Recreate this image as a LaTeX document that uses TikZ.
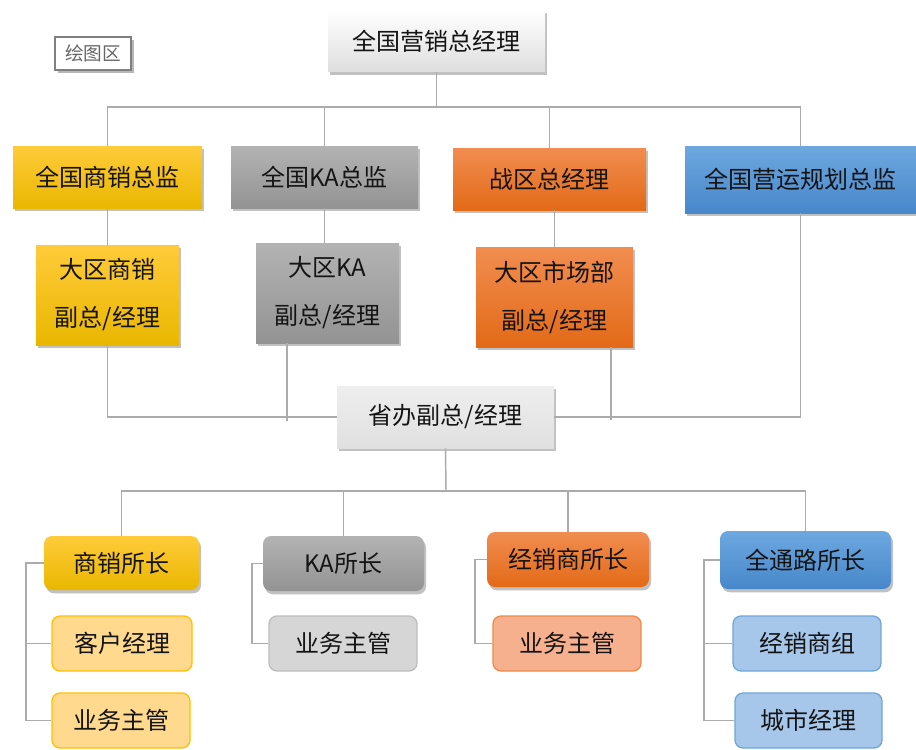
\documentclass[tikz,border=0pt]{standalone}
\usepackage{fontspec}
\setmainfont{Noto Sans CJK SC}
\usetikzlibrary{shadows}
\definecolor{conncol}{HTML}{ABABAB}
\definecolor{ylwT}{HTML}{FFCB3A}\definecolor{ylwB}{HTML}{E9B700}
\definecolor{gryT}{HTML}{B3B3B3}\definecolor{gryB}{HTML}{939393}
\definecolor{orgT}{HTML}{F18D50}\definecolor{orgB}{HTML}{E36A17}
\definecolor{bluT}{HTML}{6DA8DF}\definecolor{bluB}{HTML}{4787CA}
\definecolor{whtT}{HTML}{FFFFFF}\definecolor{whtB}{HTML}{DEDEDE}
\definecolor{pvT}{HTML}{EEEEEE}\definecolor{pvB}{HTML}{E0E0E0}
\definecolor{lyF}{HTML}{FFD98E}\definecolor{lyD}{HTML}{FFC000}
\definecolor{lgF}{HTML}{D6D6D6}\definecolor{lgD}{HTML}{BDBDBD}
\definecolor{loF}{HTML}{F6B08E}\definecolor{loD}{HTML}{F0894A}
\definecolor{lbF}{HTML}{A7C7EA}\definecolor{lbD}{HTML}{6FA6DA}
\begin{document}
\begin{tikzpicture}[x=0.75pt,y=-0.75pt,
  base/.style={rectangle,inner sep=0pt,align=center,text=black!92,
    font=\fontsize{18}{36}\selectfont},
  shad/.style={drop shadow={shadow xshift=1.5pt,shadow yshift=-2.5pt,opacity=0.35,fill=black!70}},
  grad/.style 2 args={base,shad,top color=#1,bottom color=#2},
  rbox/.style 2 args={base,shad,rounded corners=6pt,top color=#1,bottom color=#2},
  lbox/.style 2 args={base,rounded corners=6pt,fill=#1,draw=#2,line width=1pt},
  conn/.style={draw=conncol,line width=1.1pt}
]
\useasboundingbox (0,0) rectangle (916,749);

% level 1
\node[grad={whtT}{whtB},minimum width=162.75pt,minimum height=46.5pt] (top) at (436.5,41) {全国营销总经理};
\node[base,fill=white,draw=black!50,line width=0.8pt,
  drop shadow={shadow xshift=2.5pt,shadow yshift=-2.5pt,opacity=0.4,fill=black!70},
  text=black!60,font=\fontsize{14}{16}\selectfont,minimum width=57pt,minimum height=24.75pt] (area) at (93,53.5) {绘图区};

% level 2
\node[grad={ylwT}{ylwB},minimum width=141.75pt,minimum height=46.5pt] (d1) at (107.5,177) {全国商销总监};
\node[grad={gryT}{gryB},minimum width=140.25pt,minimum height=46.5pt] (d2) at (324.5,177) {全国KA总监};
\node[grad={orgT}{orgB},minimum width=144.75pt,minimum height=46.5pt] (d3) at (549.5,179) {战区总经理};
\node[grad={bluT}{bluB},minimum width=173.25pt,minimum height=50.25pt] (d4) at (800.5,179.5) {全国营运规划总监};

% level 3
\node[grad={ylwT}{ylwB},minimum width=107.25pt,minimum height=75pt] (r1) at (107.5,295) {大区商销\\副总/经理};
\node[grad={gryT}{gryB},minimum width=107.25pt,minimum height=75pt] (r2) at (327.5,293) {大区KA\\副总/经理};
\node[grad={orgT}{orgB},minimum width=117.75pt,minimum height=75pt] (r3) at (554.5,297) {大区市场部\\副总/经理};

% province
\node[grad={pvT}{pvB},minimum width=162.75pt,minimum height=46.5pt] (p) at (445.5,417) {省办副总/经理};

% level 4
\node[rbox={ylwT}{ylwB},minimum width=116.25pt,minimum height=40.5pt] (e1) at (121.5,563) {商销所长};
\node[rbox={gryT}{gryB},minimum width=120.75pt,minimum height=41.25pt] (e2) at (343.5,563.5) {KA所长};
\node[rbox={orgT}{orgB},minimum width=121.5pt,minimum height=41.25pt] (e3) at (568,559.5) {经销商所长};
\node[rbox={bluT}{bluB},minimum width=128.25pt,minimum height=43.5pt] (e4) at (805.5,560) {全通路所长};

% level 5
\node[lbox={lyF}{lyD},minimum width=105pt,minimum height=41.25pt] (f1) at (122,643.5) {客户经理};
\node[lbox={lyF}{lyD},minimum width=103.5pt,minimum height=41.25pt] (f2) at (121,720.5) {业务主管};
\node[lbox={lgF}{lgD},minimum width=111pt,minimum height=41.25pt] (f3) at (343,643.5) {业务主管};
\node[lbox={loF}{loD},minimum width=111pt,minimum height=41.25pt] (f4) at (567,643.5) {业务主管};
\node[lbox={lbF}{lbD},minimum width=111pt,minimum height=41.25pt] (f5) at (807,643.5) {经销商组};
\node[lbox={lbF}{lbD},minimum width=110.25pt,minimum height=41.25pt] (f6) at (808.5,720.5) {城市经理};

% helper coordinates
\coordinate (bus1) at (436.5,107);
\coordinate (bus2) at (446,491);
\coordinate (p2) at (287,421);
\coordinate (p3) at (611,420);
\coordinate (s1) at (26,0);
\coordinate (s2) at (252,0);
\coordinate (s3) at (475,0);
\coordinate (s4) at (704,0);

% connectors: top bus
\draw[conn] (top.south) -- (bus1);
\draw[conn] (d1.north) |- (bus1) -| (d4.north);
\draw[conn] (d2.north) -- (d2.north |- bus1);
\draw[conn] (d3.north) -- (d3.north |- bus1);

\draw[conn] (d1.south) -- (r1.north);
\draw[conn] (d2.south) -- (d2.south |- r2.north);
\draw[conn] (r3.north) -- (r3.north |- d3.south);

\draw[conn] (r1.south) |- (p.west);
\draw[conn] (d4.south) |- (p.east);
\draw[conn] (p2 |- r2.south) -- (p2);
\draw[conn] (p3 |- r3.south) -- (p3);

% lower bus
\draw[conn] (p.south) -- (bus2);
\draw[conn] (e1.north) |- (bus2) -| (e4.north);
\draw[conn] (e2.north) -- (e2.north |- bus2);
\draw[conn] (e3.north) -- (e3.north |- bus2);

% side connectors
\draw[conn] (e1.west) -- (e1.west -| s1) |- (f2.west);
\draw[conn] (f1.west -| s1) -- (f1.west);
\draw[conn] (e2.west) -- (e2.west -| s2) |- (f3.west);
\draw[conn] (e3.west) -- (e3.west -| s3) |- (f4.west);
\draw[conn] (e4.west) -- (e4.west -| s4) |- (f6.west);
\draw[conn] (f5.west -| s4) -- (f5.west);
\end{tikzpicture}
\end{document}
